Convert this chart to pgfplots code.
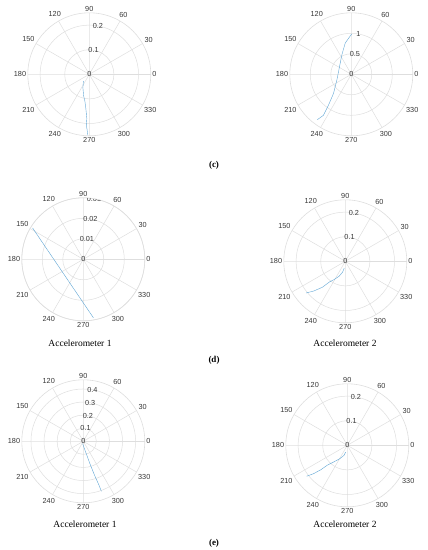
\documentclass[border=0pt]{standalone}
\usepackage{fontspec}
\setmainfont{Liberation Serif}
\newfontfamily\ticksf{Liberation Sans}
\usepackage{pgfplots}
\pgfplotsset{compat=1.18}
\usepgfplotslibrary{polar}
\definecolor{gridc}{RGB}{222,222,222}
\definecolor{tickc}{RGB}{55,55,55}
\definecolor{linec}{RGB}{95,165,212}
\tikzset{rlab/.style={font=\ticksf\fontsize{7.3}{8}\selectfont, text=tickc, inner sep=0pt}}
\pgfplotsset{mypolar/.style={
  scale only axis, width=123pt, height=123pt,
  anchor=center,
  xmin=0, xmax=360, ymin=0,
  xtick={0,30,...,330},
  xticklabels={0,30,60,90,120,150,180,210,240,270,300,330},
  yticklabels={},
  scaled y ticks=false,
  xmajorgrids, ymajorgrids,
  major grid style={line width=0.5pt, draw=gridc},
  axis line style={line width=0.6pt, draw=gridc},
  major tick length=0pt,
  xticklabel style={font=\ticksf\fontsize{7.3}{8}\selectfont, text=tickc, inner sep=1.5pt},
  cycle list={{draw=linec, line width=0.8pt, no markers}},
}}
\begin{document}
\begin{tikzpicture}
\useasboundingbox (0,0) rectangle (428pt,-550pt);
% (c) left
\begin{polaraxis}[mypolar, at={(89.3pt,-74.3pt)}, ymax=0.25, ytick={0.1,0.2}]
\addplot coordinates {(229.4,0.0369) (244.7,0.0608) (255.4,0.0910) (260.5,0.1095) (264.3,0.1407) (266.8,0.1803) (266.6,0.2054) (267.7,0.2252) (268.6,0.2471)};
\node[rlab] at (axis cs:80,0) {0};
\node[rlab] at (axis cs:80,0.1) {0.1};
\node[rlab] at (axis cs:80,0.2) {0.2};
\end{polaraxis}
% (c) right
\begin{polaraxis}[mypolar, at={(351.3pt,-74.3pt)}, ymax=1.5, ytick={0.5,1}]
\addplot coordinates {(89.5,0.984) (101.0,0.776) (115.8,0.528) (153.4,0.330) (201.5,0.378) (227.1,0.637) (233.5,0.937) (235.8,1.209) (233.2,1.382)};
\node[rlab] at (axis cs:80,0) {0};
\node[rlab] at (axis cs:80,0.5) {0.5};
\node[rlab] at (axis cs:80,1) {1};
\end{polaraxis}
% (d) left
\begin{polaraxis}[mypolar, at={(83.3pt,-259.3pt)}, ymax=0.03, ytick={0.01,0.02,0.03}]
\addplot coordinates {(148.3,0.02908) (279.8,0.02894)};
\node[rlab] at (axis cs:80,0) {0};
\node[rlab] at (axis cs:80,0.01) {0.01};
\node[rlab] at (axis cs:80,0.02) {0.02};
\node[rlab] at (axis cs:80,0.03) {0.03};
\end{polaraxis}
% (d) right
\begin{polaraxis}[mypolar, at={(345.3pt,-261.3pt)}, ymax=0.25, ytick={0.1,0.2}]
\addplot coordinates {(261.5,0.0277) (255.9,0.0452) (247.7,0.0652) (238.6,0.0867) (232.2,0.1074) (228.5,0.1408) (223.4,0.1754) (219.0,0.2045)};
\node[rlab] at (axis cs:80,0) {0};
\node[rlab] at (axis cs:80,0.1) {0.1};
\node[rlab] at (axis cs:80,0.2) {0.2};
\end{polaraxis}
% (e) left
\begin{polaraxis}[mypolar, at={(83.3pt,-441.3pt)}, ymax=0.47, ytick={0.1,0.2,0.3,0.4}]
\addplot coordinates {(254.5,0.0187) (282.4,0.084) (286.5,0.179) (288.4,0.276) (289.7,0.359) (289.9,0.406)};
\node[rlab] at (axis cs:80,0) {0};
\node[rlab] at (axis cs:80,0.1) {0.1};
\node[rlab] at (axis cs:80,0.2) {0.2};
\node[rlab] at (axis cs:80,0.3) {0.3};
\node[rlab] at (axis cs:80,0.4) {0.4};
\end{polaraxis}
% (e) right
\begin{polaraxis}[mypolar, at={(347.3pt,-445.3pt)}, ymax=0.25, ytick={0.1,0.2}]
\addplot coordinates {(256,0.0285) (251.6,0.0436) (240.1,0.0637) (231.6,0.0844) (225,0.1131) (222.7,0.1464) (220.0,0.1801) (217.2,0.2077)};
\node[rlab] at (axis cs:80,0) {0};
\node[rlab] at (axis cs:80,0.1) {0.1};
\node[rlab] at (axis cs:80,0.2) {0.2};
\end{polaraxis}
\node[font=\fontsize{9}{10}\selectfont\bfseries] at (214pt,-165pt) {(c)};
\node[font=\fontsize{9}{10}\selectfont\bfseries] at (214pt,-360pt) {(d)};
\node[font=\fontsize{9}{10}\selectfont\bfseries] at (214pt,-543pt) {(e)};
\node[font=\fontsize{9.5}{11}\selectfont] at (80pt,-343pt) {Accelerometer 1};
\node[font=\fontsize{9.5}{11}\selectfont] at (345pt,-343pt) {Accelerometer 2};
\node[font=\fontsize{9.5}{11}\selectfont] at (85pt,-524pt) {Accelerometer 1};
\node[font=\fontsize{9.5}{11}\selectfont] at (345pt,-524pt) {Accelerometer 2};
\end{tikzpicture}
\end{document}
